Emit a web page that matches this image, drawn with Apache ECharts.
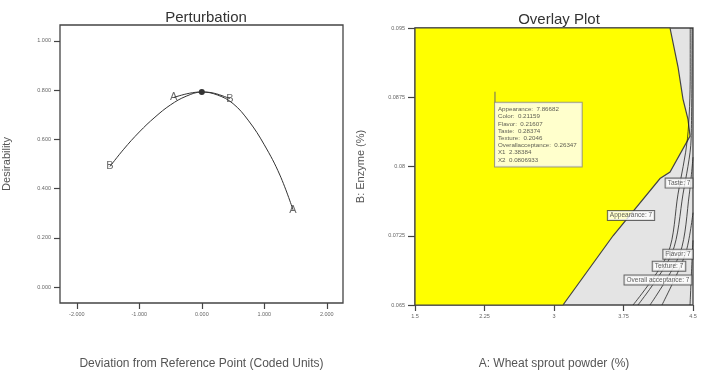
<!DOCTYPE html>
<html>
<head>
<meta charset="utf-8">
<script src="https://cdn.jsdelivr.net/npm/echarts@6.0.0/dist/echarts.min.js"></script>
<style>
html, body { margin: 0; padding: 0; background: #fff; }
#chart { width: 701px; height: 375px; }
</style>
</head>
<body>
<div id="chart"></div>
<script>
// perturbation curves (coded units -> desirability)
const curveAX = [-0.45, -0.2, 0, 0.25, 0.5, 0.75, 1.0, 1.25, 1.46];
const curveAY = [0.77, 0.787, 0.792, 0.78, 0.745, 0.675, 0.578, 0.455, 0.314];
const curveBX = [-1.47, -1.25, -1.0, -0.75, -0.5, -0.25, 0, 0.2, 0.45];
const curveBY = [0.49, 0.56, 0.63, 0.69, 0.74, 0.775, 0.792, 0.787, 0.765];
const refPoint = [0, 0.792];
const pertXTicks = [-2, -1, 0, 1, 2];
const pertYTicks = [0, 0.2, 0.4, 0.6, 0.8, 1.0];

// overlay plot
const overlayXTicks = [1.5, 2.25, 3, 3.75, 4.5];
const overlayYTicks = [0.065, 0.0725, 0.08, 0.0875, 0.095];
// feasible (yellow) region boundary
const regionX = [1.5, 1.5, 4.252, 4.338, 4.392, 4.446, 4.468, 4.252, 4.144, 3.637, 3.097];
const regionY = [0.065, 0.095, 0.095, 0.0908, 0.0873, 0.0851, 0.0833, 0.0794, 0.0787, 0.0725, 0.065];
// constraint contour lines
const contourLines = [
    [[3.853, 0.065], [4.23, 0.0706], [4.338, 0.077], [4.44, 0.083], [4.47, 0.09], [4.47, 0.095]],
    [[3.906, 0.065], [4.273, 0.0706], [4.392, 0.077], [4.48, 0.083], [4.49, 0.095]],
    [[4.036, 0.065], [4.36, 0.0706], [4.46, 0.077], [4.5, 0.081]],
    [[4.165, 0.065], [4.42, 0.0706], [4.5, 0.075]],
    [[4.468, 0.065], [4.49, 0.07], [4.5, 0.072]]
];
const contourLabelNames = ['Taste: 7', 'Appearance: 7', 'Flavor: 7', 'Texture: 7', 'Overall acceptance: 7'];
const contourLabelX = [4.349, 3.831, 4.338, 4.241, 4.122];
const contourLabelY = [0.0782, 0.0747, 0.0705, 0.0692, 0.0677];
const flagPole = [[2.363, 0.0881], [2.363, 0.0869]];
const flagLines = ['Appearance:  7.86682', 'Color:  0.21159', 'Flavor:  0.21607', 'Taste:  0.28374',
    'Texture:  0.2046', 'Overallacceptance:  0.26347', 'X1  2.38384', 'X2  0.0806933'];
const optPoint = [2.99, 0.0799];

const font = '"Liberation Sans", Arial, sans-serif';
const frame = '#444';
const tickLabel = { fontSize: 5.5, color: '#666', fontFamily: font };

function pts(xs, ys) {
    let out = [];
    for (let i = 0; i < xs.length; i++) out.push([xs[i], ys[i]]);
    return out;
}

function endLabels(xs, ys, name) {
    return [
        { value: [xs[0], ys[0]], name: name },
        { value: [xs[xs.length - 1], ys[ys.length - 1]], name: name }
    ];
}

const chart = echarts.init(document.getElementById('chart'));

let series = [
    {
        type: 'line', xAxisIndex: 0, yAxisIndex: 0, data: pts(curveBX, curveBY),
        smooth: 0.4, symbol: 'none', lineStyle: { color: '#333', width: 1 }, silent: true
    },
    {
        type: 'line', xAxisIndex: 0, yAxisIndex: 0, data: pts(curveAX, curveAY),
        smooth: 0.4, symbol: 'none', lineStyle: { color: '#333', width: 1 }, silent: true
    },
    {
        type: 'scatter', xAxisIndex: 0, yAxisIndex: 0,
        data: endLabels(curveAX, curveAY, 'A').concat(endLabels(curveBX, curveBY, 'B')),
        symbolSize: 0,
        label: { show: true, position: 'inside', formatter: '{b}', fontSize: 11, color: '#444', fontFamily: font }
    },
    {
        type: 'scatter', xAxisIndex: 0, yAxisIndex: 0, data: [refPoint],
        symbolSize: 6, itemStyle: { color: '#000' }
    },
    {
        type: 'custom', xAxisIndex: 1, yAxisIndex: 1, data: [0], silent: true,
        renderItem: function (params, api) {
            let points = [];
            for (let i = 0; i < regionX.length; i++) points.push(api.coord([regionX[i], regionY[i]]));
            return {
                type: 'polygon',
                shape: { points: points },
                style: { fill: '#ffff00', stroke: '#444', lineWidth: 1.2 }
            };
        }
    },
    {
        type: 'scatter', xAxisIndex: 1, yAxisIndex: 1, data: [optPoint], z: 1,
        symbolSize: 5, itemStyle: { color: '#c81010' }
    },
    {
        type: 'line', xAxisIndex: 1, yAxisIndex: 1, data: flagPole,
        symbol: 'none', lineStyle: { color: '#666', width: 1 }, silent: true
    },
    {
        type: 'scatter', xAxisIndex: 1, yAxisIndex: 1, data: [flagPole[1]], symbolSize: 0, z: 5,
        label: {
            show: true, position: [0, 0], align: 'left', verticalAlign: 'top',
            formatter: flagLines.join('\n'),
            fontSize: 6.2, lineHeight: 7.2, color: '#333', fontFamily: font,
            backgroundColor: '#fff', borderColor: '#888', borderWidth: 1, padding: [3, 5, 3, 3]
        }
    },
    {
        type: 'scatter', xAxisIndex: 1, yAxisIndex: 1, z: 5,
        data: contourLabelNames.map((n, i) => ({ name: n, value: [contourLabelX[i], contourLabelY[i]] })),
        symbolSize: 0,
        label: {
            show: true, position: 'inside', formatter: '{b}',
            fontSize: 6.5, color: '#333', fontFamily: font,
            backgroundColor: '#fff', borderColor: '#444', borderWidth: 1, padding: [1, 2]
        }
    }
];
contourLines.forEach(function (line) {
    series.push({
        type: 'line', xAxisIndex: 1, yAxisIndex: 1, data: line, smooth: 0.3,
        symbol: 'none', lineStyle: { color: '#222', width: 0.8 }, silent: true, z: 3
    });
});

chart.setOption({
    animation: false,
    title: [
        {
            text: 'Perturbation', left: 201, top: 5, textAlign: 'center',
            textStyle: { fontSize: 15, fontWeight: 'normal', color: '#333', fontFamily: font }
        },
        {
            text: 'Overlay Plot', left: 554, top: 7, textAlign: 'center',
            textStyle: { fontSize: 15, fontWeight: 'normal', color: '#333', fontFamily: font }
        }
    ],
    grid: [
        { left: 60, top: 25, width: 283, height: 283, show: true, borderColor: frame, borderWidth: 1.3, backgroundColor: '#fff' },
        { left: 415, top: 28, width: 278, height: 279, show: true, borderColor: frame, borderWidth: 1.3, backgroundColor: '#e4e4e4' }
    ],
    xAxis: [
        {
            gridIndex: 0, type: 'value', min: -2.27, max: 2.26,
            name: 'Deviation from Reference Point (Coded Units)', nameLocation: 'middle', nameGap: 55,
            nameTextStyle: { fontSize: 12, color: '#555', fontFamily: font },
            axisLine: { show: false, onZero: false },
            axisTick: { show: true, length: 6, customValues: pertXTicks, lineStyle: { color: frame, width: 1.2 } },
            axisLabel: Object.assign({ customValues: pertXTicks, margin: 8, formatter: v => v.toFixed(3) }, tickLabel),
            splitLine: { show: false }
        },
        {
            gridIndex: 1, type: 'value', min: 1.5, max: 4.5,
            name: 'A: Wheat sprout powder (%)', nameLocation: 'middle', nameGap: 53,
            nameTextStyle: { fontSize: 12, color: '#555', fontFamily: font },
            axisLine: { show: false, onZero: false },
            axisTick: { show: true, length: 6, customValues: overlayXTicks, lineStyle: { color: frame, width: 1.2 } },
            axisLabel: Object.assign({ customValues: overlayXTicks, margin: 8 }, tickLabel),
            splitLine: { show: false }
        }
    ],
    yAxis: [
        {
            gridIndex: 0, type: 'value', min: -0.064, max: 1.064,
            name: 'Desirability', nameLocation: 'middle', nameGap: 48,
            nameTextStyle: { fontSize: 11, color: '#555', fontFamily: font },
            axisLine: { show: false, onZero: false },
            axisTick: { show: true, length: 6, customValues: pertYTicks, lineStyle: { color: frame, width: 1.2 } },
            axisLabel: Object.assign({ customValues: pertYTicks, margin: 9, formatter: v => v.toFixed(3) }, tickLabel),
            splitLine: { show: false }
        },
        {
            gridIndex: 1, type: 'value', min: 0.065, max: 0.095,
            name: 'B: Enzyme (%)', nameLocation: 'middle', nameGap: 49,
            nameTextStyle: { fontSize: 11, color: '#555', fontFamily: font },
            axisLine: { show: false, onZero: false },
            axisTick: { show: true, length: 7, customValues: overlayYTicks, lineStyle: { color: frame, width: 1.2 } },
            axisLabel: Object.assign({ customValues: overlayYTicks, margin: 10 }, tickLabel),
            splitLine: { show: false }
        }
    ],
    series: series
});
</script>
</body>
</html>
